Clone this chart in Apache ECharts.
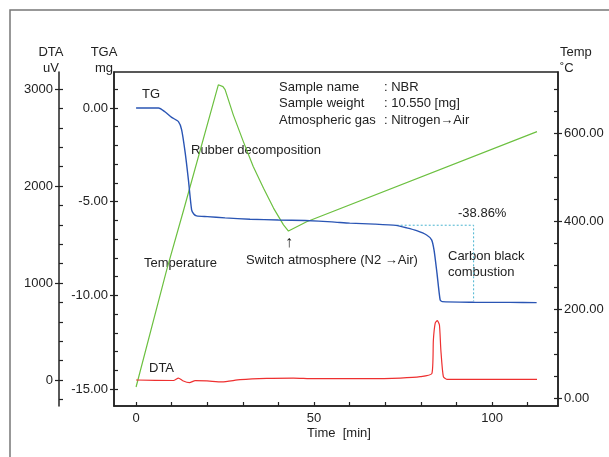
<!DOCTYPE html>
<html>
<head>
<meta charset="utf-8">
<script src="https://cdn.jsdelivr.net/npm/echarts@6/dist/echarts.min.js"></script>
<style>
  html, body { margin: 0; padding: 0; background: #fff; }
  #chart { width: 609px; height: 457px; }
</style>
</head>
<body>
<div id="chart"></div>
<script>
// TG curve (mg vs min)
const tgTime = [0, 6.3, 8.1, 10, 11.9, 12.8, 13.8, 14.7, 15.6, 16.2, 17, 20, 25, 32, 40, 47.5, 55, 60, 67, 73, 76, 78.8, 81.6, 83, 83.7, 84.5, 85.4, 86, 95, 105, 112.5];
const tgMass = [0, 0, -0.2, -0.5, -0.73, -1.17, -2.4, -3.84, -5.44, -5.66, -5.76, -5.8, -5.87, -5.94, -5.98, -6.01, -6.08, -6.15, -6.2, -6.27, -6.4, -6.55, -6.78, -7.04, -7.6, -8.8, -10.25, -10.34, -10.37, -10.38, -10.39];

// temperature program (deg C vs min)
const tempTime = [0, 8.6, 13.3, 23.1, 24.4, 25.0, 27.3, 30.1, 32.9, 35.8, 38.6, 41.4, 42.8, 47.9, 112.6];
const tempValue = [25, 290, 424, 709, 705, 698, 641, 581, 524, 475, 430, 392, 378, 399, 603];

// DTA signal (uV vs min)
const dtaTime = [0, 10.5, 11.9, 13.1, 15, 16.6, 19.9, 24.1, 29.2, 36.7, 44.2, 49.8, 64.8, 74.2, 79.8, 83.1, 83.5, 84.0, 84.6, 85.2, 85.6, 86.3, 87.3, 112.6];
const dtaValue = [0, -5, 20, -7, -27, -7, -10, -20, 3, 17, 20, 14, 14, 20, 34, 69, 412, 584, 612, 567, 309, 34, 7, 7];

// -38.86 % step marker
const stepTime = [73.2, 94.8, 94.8];
const stepMass = [-6.26, -6.26, -10.3];

// axis ticks
const timeLabels = [0, 50, 100];
const timeTicks = [0, 10, 20, 30, 40, 50, 60, 70, 80, 90, 100, 110];
const tgaLabels = [-15, -10, -5, 0];
const tgaTicks = [-15, -14, -13, -12, -11, -10, -9, -8, -7, -6, -5, -4, -3, -2, -1, 0, 1];
const dtaLabels = [0, 1000, 2000, 3000];
const dtaTicks = [-200, 0, 200, 400, 600, 800, 1000, 1200, 1400, 1600, 1800, 2000, 2200, 2400, 2600, 2800, 3000];
const tempLabels = [0, 200, 400, 600];
const tempTicks = [0, 50, 100, 150, 200, 250, 300, 350, 400, 450, 500, 550, 600, 650, 700];

const FONT = '"Liberation Sans", Arial, Helvetica, sans-serif';
const INK = '#222';

const pair = (xs, ys) => xs.map((x, i) => [x, ys[i]]);

const chart = echarts.init(document.getElementById('chart'));

// main axis: line + labels + outward major ticks
function mainAxis(pos, offset, min, max, labels, fmt) {
  return {
    type: 'value', position: pos, offset: offset, min: min, max: max,
    axisLine: { show: true, onZero: false, lineStyle: { color: INK, width: 1.5 } },
    axisTick: { show: true, inside: false, length: 4, customValues: labels, lineStyle: { color: INK, width: 1.2 } },
    axisLabel: { customValues: labels, margin: 6, color: INK, fontSize: 13, fontFamily: FONT, formatter: fmt },
    splitLine: { show: false }
  };
}
// overlay axis: only inward ticks
function tickAxis(pos, offset, min, max, ticks) {
  return {
    type: 'value', position: pos, offset: offset, min: min, max: max,
    axisLine: { show: false, onZero: false },
    axisTick: { show: true, inside: true, length: 4, customValues: ticks, lineStyle: { color: INK, width: 1.2 } },
    axisLabel: { show: false },
    splitLine: { show: false }
  };
}

const tgaMin = -15.91, tgaMax = 1.92;
const dtaMin = -268, dtaMax = 3175;
const tempMin = -18, tempMax = 738;

chart.setOption({
  animation: false,
  backgroundColor: '#fff',
  grid: { left: 114, top: 72, width: 444, height: 334, show: true, borderColor: INK, borderWidth: 1.5 },
  xAxis: {
    type: 'value', min: -6.2, max: 118.5,
    axisLine: { show: true, onZero: false, lineStyle: { color: INK, width: 1.5 } },
    axisTick: { show: true, inside: true, length: 4, customValues: timeTicks, lineStyle: { color: INK, width: 1.2 } },
    axisLabel: { customValues: timeLabels, margin: 6, color: INK, fontSize: 13, fontFamily: FONT },
    splitLine: { show: false }
  },
  yAxis: [
    mainAxis('left', 0, tgaMin, tgaMax, tgaLabels, v => v.toFixed(2)),
    mainAxis('left', 55, dtaMin, dtaMax, dtaLabels, v => String(v)),
    mainAxis('right', 0, tempMin, tempMax, tempLabels, v => v.toFixed(2)),
    tickAxis('left', 0, tgaMin, tgaMax, tgaTicks),
    tickAxis('left', 55, dtaMin, dtaMax, dtaTicks),
    tickAxis('right', 0, tempMin, tempMax, tempTicks)
  ],
  series: [
    {
      name: 'Temperature', type: 'line', yAxisIndex: 2, showSymbol: false, silent: true,
      data: pair(tempTime, tempValue),
      lineStyle: { color: '#6cc040', width: 1.2 }
    },
    {
      name: 'Step', type: 'line', yAxisIndex: 0, showSymbol: false, silent: true,
      data: pair(stepTime, stepMass),
      lineStyle: { color: '#4ab4d0', width: 1, type: [2, 2] }
    },
    {
      name: 'TG', type: 'line', yAxisIndex: 0, showSymbol: false, silent: true, smooth: 0.2,
      data: pair(tgTime, tgMass),
      lineStyle: { color: '#2a55b4', width: 1.4 }
    },
    {
      name: 'DTA', type: 'line', yAxisIndex: 1, showSymbol: false, silent: true, smooth: 0.2,
      data: pair(dtaTime, dtaValue),
      lineStyle: { color: '#ee3030', width: 1.2 }
    }
  ],
  graphic: [
    { type: 'rect', shape: { x: 10, y: 10, width: 640, height: 480 }, style: { fill: 'none', stroke: '#777', lineWidth: 1.5 }, silent: true },
    { type: 'text', style: { text: 'DTA\nuV', x: 51, y: 44, textAlign: 'center', font: '13px ' + FONT, fill: INK, lineHeight: 16 } },
    { type: 'text', style: { text: 'TGA\nmg', x: 104, y: 44, textAlign: 'center', font: '13px ' + FONT, fill: INK, lineHeight: 16 } },
    { type: 'text', style: { text: 'Temp\n˚C', x: 560, y: 44, textAlign: 'left', font: '13px ' + FONT, fill: INK, lineHeight: 16 } },
    { type: 'text', style: { text: 'TG', x: 142, y: 88, font: '13px ' + FONT, fill: INK } },
    { type: 'text', style: { text: 'Rubber decomposition', x: 191, y: 144, font: '13px ' + FONT, fill: INK } },
    { type: 'text', style: { text: 'Sample name\nSample weight\nAtmospheric gas', x: 279, y: 79, font: '13px ' + FONT, fill: INK, lineHeight: 16.5 } },
    { type: 'text', style: { text: ': NBR\n: 10.550 [mg]\n: Nitrogen\u2192Air', x: 384, y: 79, font: '13px ' + FONT, fill: INK, lineHeight: 16.5 } },
    { type: 'text', style: { text: '-38.86%', x: 458, y: 207, font: '13px ' + FONT, fill: INK } },
    { type: 'text', style: { text: '\u2191', x: 289, y: 243, textAlign: 'center', textVerticalAlign: 'middle', font: '16px ' + FONT, fill: INK } },
    { type: 'text', style: { text: 'Switch atmosphere (N2 \u2192Air)', x: 246, y: 254, font: '13px ' + FONT, fill: INK } },
    { type: 'text', style: { text: 'Carbon black\ncombustion', x: 448, y: 248, font: '13px ' + FONT, fill: INK, lineHeight: 16 } },
    { type: 'text', style: { text: 'Temperature', x: 144, y: 257, font: '13px ' + FONT, fill: INK } },
    { type: 'text', style: { text: 'DTA', x: 149, y: 362, font: '13px ' + FONT, fill: INK } },
    { type: 'text', style: { text: 'Time  [min]', x: 339, y: 433, textAlign: 'center', textVerticalAlign: 'middle', font: '13px ' + FONT, fill: INK } }
  ]
});
</script>
</body>
</html>
